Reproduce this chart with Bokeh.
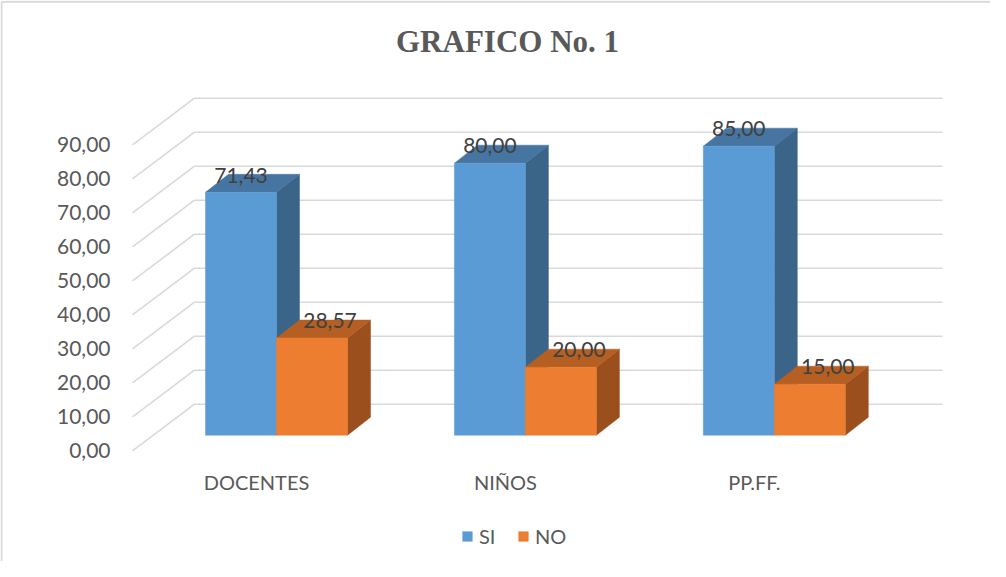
from bokeh.plotting import figure
from bokeh.models import Range1d, Legend, LegendItem, ColumnDataSource
from bokeh.embed import file_html
from bokeh.resources import INLINE
from bokeh.core.properties import value

# ---------------- data ----------------
title_text = "GRAFICO No. 1"
categories = ["DOCENTES", "NIÑOS", "PP.FF."]
series_names = ["SI", "NO"]
si_values = [71.43, 80.00, 85.00]
no_values = [28.57, 20.00, 15.00]
y_ticks = [0, 10, 20, 30, 40, 50, 60, 70, 80, 90]
y_tick_labels = ["0,00", "10,00", "20,00", "30,00", "40,00",
                 "50,00", "60,00", "70,00", "80,00", "90,00"]
value_labels_si = ["71,43", "80,00", "85,00"]
value_labels_no = ["28,57", "20,00", "15,00"]

# ---------------- layout (page pixels) ----------------
W, H = 990, 561
PAGE_OFF = 8
G0 = 284.0        # page x of first group's centre (front)
GSTEP = 248.9     # page px between groups
BASE = 442.7      # page y of value 0 on the bar front plane
PPV = 3.40        # page px per value unit
BAR_W = 71.0
DEPTH_X, DEPTH_Y = 23.0, 18.0

def ux(px):
    return (px - G0) / GSTEP

def vy(py):
    return (BASE - py) / PPV

x_lo, x_hi = ux(PAGE_OFF), ux(PAGE_OFF + W)
y_lo, y_hi = vy(PAGE_OFF + H), vy(PAGE_OFF)

p = figure(width=W, height=H, x_range=Range1d(x_lo, x_hi), y_range=Range1d(y_lo, y_hi),
           output_backend="svg", toolbar_location=None, min_border=0,
           x_axis_type=None, y_axis_type=None)
p.grid.visible = False
p.outline_line_color = None
p.background_fill_color = "white"
p.border_fill_color = "white"

# outer frame (top and left edges visible)
p.segment(x0=[ux(9), ux(9)], y0=[vy(9.2), vy(9.2)], x1=[ux(9), ux(1006)], y1=[vy(600), vy(9.2)],
          line_color="#d9d9d9", line_width=2)

# ---------------- 3D wall gridlines ----------------
front_off = vy(458.3)          # value offset of front end of each diagonal
back_off = vy(411.7)           # value offset of back wall
x_front, x_back, x_right = ux(140), ux(202), ux(950)
gx, gy = [], []
for t in y_ticks:
    gx.append([x_front, x_back, x_right])
    gy.append([t + front_off, t + back_off, t + back_off])
p.multi_line(xs=gx, ys=gy, line_color="#d9d9d9", line_width=1.6)

# axis tick labels
p.text(x=[ux(118)] * len(y_ticks), y=[t + front_off for t in y_ticks], text=y_tick_labels,
       text_align="right", text_baseline="middle", text_font=value("Lato"),
       text_font_size="21px", text_color="#595959")

# ---------------- 3D bars ----------------
bw = BAR_W / GSTEP
du = DEPTH_X / GSTEP
dv = DEPTH_Y / PPV

colors = {
    "SI": dict(front="#5B9BD5", top="#4675A2", side="#3A6488"),
    "NO": dict(front="#ED7D31", top="#B55F22", side="#9A4F1C"),
}
front_renderers = {}
for name, vals, offs in (("SI", si_values, -1), ("NO", no_values, 0)):
    lefts = [i + offs * bw for i in range(len(categories))]
    rights = [l + bw for l in lefts]
    sx = [[r, r + du, r + du, r] for r in rights]
    sy = [[0, dv, v + dv, v] for v in vals]
    p.patches(xs=sx, ys=sy, fill_color=colors[name]["side"], line_color=colors[name]["side"], line_width=0.5)
    tx = [[l, l + du, r + du, r] for l, r in zip(lefts, rights)]
    ty = [[v, v + dv, v + dv, v] for v in vals]
    p.patches(xs=tx, ys=ty, fill_color=colors[name]["top"], line_color=colors[name]["top"], line_width=0.5)
    src = ColumnDataSource(dict(left=lefts, right=rights, bottom=[0] * len(vals), top=vals))
    front_renderers[name] = p.quad(left="left", right="right", bottom="bottom", top="top", source=src,
                                   fill_color=colors[name]["front"], line_color=colors[name]["front"],
                                   line_width=0.5)

# value labels
lab_si_x = [i - bw / 2 for i in range(len(categories))]
p.text(x=lab_si_x, y=[v + dv - 0.2 for v in si_values], text=value_labels_si,
       text_align="center", text_baseline="alphabetic", text_font=value("Lato"),
       text_font_size="21px", text_color="#404040")
lab_no_x = [i + bw / 2 + 18 / GSTEP for i in range(len(categories))]
p.text(x=lab_no_x, y=[v + dv - 0.2 for v in no_values], text=value_labels_no,
       text_align="center", text_baseline="alphabetic", text_font=value("Lato"),
       text_font_size="21px", text_color="#404040")

# category labels
p.text(x=[i - 20 / GSTEP for i in range(len(categories))], y=[vy(489)] * len(categories), text=categories,
       text_align="center", text_baseline="middle", text_font=value("Lato"),
       text_font_size="20px", text_color="#595959")

# title
p.text(x=[ux(515)], y=[vy(49)], text=[title_text], text_align="center", text_baseline="middle",
       text_font=value("Liberation Serif"), text_font_style="bold", text_font_size="31px",
       text_color="#595959")

# legend
legend = Legend(items=[LegendItem(label=series_names[0], renderers=[front_renderers["SI"]]),
                       LegendItem(label=series_names[1], renderers=[front_renderers["NO"]])],
                location=(461, 13), orientation="horizontal", glyph_width=12, glyph_height=12,
                label_text_font="Lato", label_text_font_size="20px", label_text_color="#595959",
                label_standoff=6, spacing=18, padding=0, margin=0, label_height=20,
                border_line_color=None, background_fill_alpha=0)
p.add_layout(legend)

open("out.html", "w").write(file_html(p, INLINE))
